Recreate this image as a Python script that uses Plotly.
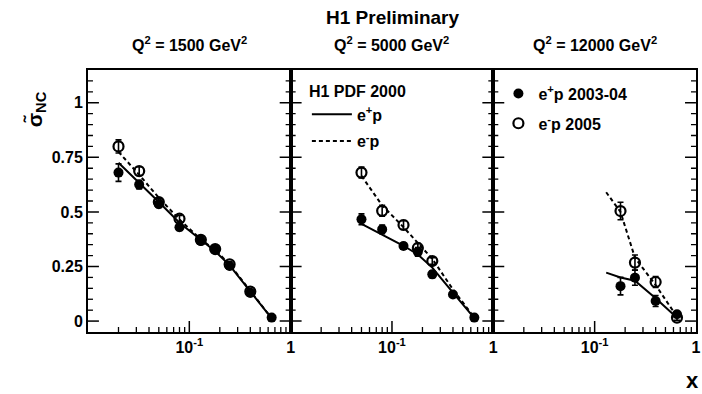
import math
import plotly.graph_objects as go
from plotly.subplots import make_subplots

# ---------------- data ----------------
q2_labels = ["Q<sup>2</sup> = 1500 GeV<sup>2</sup>", "Q<sup>2</sup> = 5000 GeV<sup>2</sup>", "Q<sup>2</sup> = 12000 GeV<sup>2</sup>"]

# theory x grids
th_x1 = [0.02, 0.032, 0.05, 0.08, 0.13, 0.18, 0.25, 0.40, 0.65]
th_ep1 = [0.725, 0.635, 0.545, 0.45, 0.37, 0.32, 0.255, 0.135, 0.012]
th_em1 = [0.775, 0.67, 0.565, 0.465, 0.375, 0.325, 0.26, 0.137, 0.013]

th_x2 = [0.05, 0.08, 0.13, 0.18, 0.25, 0.40, 0.65]
th_ep2 = [0.445, 0.395, 0.345, 0.305, 0.245, 0.13, 0.014]
th_em2 = [0.665, 0.53, 0.43, 0.36, 0.285, 0.145, 0.016]

th_x3 = [0.13, 0.18, 0.25, 0.40, 0.65]
th_ep3 = [0.222, 0.20, 0.185, 0.105, 0.015]
th_em3 = [0.59, 0.50, 0.29, 0.165, 0.02]

# e+p 2003-04 data (closed)
ep_x1 = [0.02, 0.032, 0.05, 0.08, 0.13, 0.18, 0.25, 0.40, 0.65]
ep_y1 = [0.68, 0.625, 0.535, 0.43, 0.367, 0.326, 0.252, 0.13, 0.016]
ep_e1 = [0.04, 0.02, 0.015, 0.015, 0.012, 0.012, 0.012, 0.008, 0.005]

ep_x2 = [0.05, 0.08, 0.13, 0.18, 0.25, 0.40, 0.65]
ep_y2 = [0.466, 0.42, 0.344, 0.317, 0.214, 0.122, 0.016]
ep_e2 = [0.025, 0.02, 0.015, 0.02, 0.015, 0.012, 0.006]

ep_x3 = [0.18, 0.25, 0.40, 0.65]
ep_y3 = [0.16, 0.199, 0.092, 0.031]
ep_e3 = [0.04, 0.035, 0.025, 0.012]

# e-p 2005 data (open)
em_x1 = [0.02, 0.032, 0.05, 0.08, 0.13, 0.18, 0.25, 0.40]
em_y1 = [0.80, 0.687, 0.545, 0.469, 0.372, 0.33, 0.26, 0.135]
em_e1 = [0.03, 0.02, 0.015, 0.015, 0.015, 0.015, 0.012, 0.01]

em_x2 = [0.05, 0.08, 0.13, 0.18, 0.25]
em_y2 = [0.68, 0.505, 0.44, 0.335, 0.275]
em_e2 = [0.025, 0.025, 0.02, 0.02, 0.015]

em_x3 = [0.18, 0.25, 0.40, 0.65]
em_y3 = [0.504, 0.268, 0.179, 0.016]
em_e3 = [0.04, 0.035, 0.025, 0.012]

# axis ticks
x_label_vals = [0.1, 1]
x_label_text = ["10<sup>-1</sup>", "1"]
x_major_tick = [0.1]
x_minor_vals = [k * 10 ** d for d in (-2, -1) for k in range(2, 10)]
y_tickvals = [0, 0.25, 0.5, 0.75, 1]
y_ticktext = ["0", "0.25", "0.5", "0.75", "1"]
y_minor_vals = [round(0.05 * k, 2) for k in range(0, 23) if k % 5 != 0]

X_LOG_RANGE = [-2.0, 0.0005]
Y_RANGE = [-0.05, 1.15]

# ---------------- figure ----------------
FONT = "Liberation Sans"
PANEL_W, PANEL_H = 204.0, 262.0
PX_PER_DECADE = PANEL_W / (X_LOG_RANGE[1] - X_LOG_RANGE[0])
PX_PER_Y = PANEL_H / (Y_RANGE[1] - Y_RANGE[0])
X_LEFT = 10 ** X_LOG_RANGE[0]
X_RIGHT = 1.0

fig = make_subplots(rows=1, cols=3, shared_yaxes=True, horizontal_spacing=0)

theory = [(th_x1, th_ep1, th_em1), (th_x2, th_ep2, th_em2), (th_x3, th_ep3, th_em3)]
closed = [(ep_x1, ep_y1, ep_e1), (ep_x2, ep_y2, ep_e2), (ep_x3, ep_y3, ep_e3)]
opened = [(em_x1, em_y1, em_e1), (em_x2, em_y2, em_e2), (em_x3, em_y3, em_e3)]

INVIS = dict(size=1, color="rgba(0,0,0,0)")


def x_tick_trace(vals, length_px, width):
    n = len(vals)
    return go.Scatter(x=vals, y=[Y_RANGE[0]] * n, mode="markers", marker=INVIS, showlegend=False,
                      hoverinfo="skip", cliponaxis=False,
                      error_y=dict(type="data", symmetric=False, array=[length_px / PX_PER_Y] * n,
                                   arrayminus=[0] * n, color="black", thickness=width, width=0))


def y_tick_trace(vals, length_px, width, side):
    n = len(vals)
    f = 10 ** (length_px / PX_PER_DECADE)
    if side == "left":
        xs, plus, minus = [X_LEFT] * n, [X_LEFT * (f - 1)] * n, [0] * n
    else:
        xs, plus, minus = [X_RIGHT] * n, [0] * n, [X_RIGHT * (1 - 1 / f)] * n
    return go.Scatter(x=xs, y=vals, mode="markers", marker=INVIS, showlegend=False,
                      hoverinfo="skip", cliponaxis=False,
                      error_x=dict(type="data", symmetric=False, array=plus, arrayminus=minus,
                                   color="black", thickness=width, width=0))


for i in range(3):
    col = i + 1
    fig.add_trace(x_tick_trace(x_major_tick, 11, 1.5), row=1, col=col)
    fig.add_trace(x_tick_trace(x_minor_vals, 5, 1.3), row=1, col=col)
    for side in ("left", "right"):
        fig.add_trace(y_tick_trace(y_tickvals, 11, 1.5, side), row=1, col=col)
        fig.add_trace(y_tick_trace(y_minor_vals, 5, 1.3, side), row=1, col=col)

    tx, tep, tem = theory[i]
    fig.add_trace(go.Scatter(x=tx, y=tep, mode="lines", line=dict(color="black", width=2),
                             name="e<sup>+</sup>p", legend="legend", legendgroup="thp", legendrank=1,
                             showlegend=(i == 0)), row=1, col=col)
    fig.add_trace(go.Scatter(x=tx, y=tem, mode="lines", line=dict(color="black", width=2, dash="4px,3px"),
                             name="e<sup>-</sup>p", legend="legend", legendgroup="thm", legendrank=2,
                             showlegend=(i == 0)), row=1, col=col)
    ox, oy, oe = opened[i]
    fig.add_trace(go.Scatter(x=ox, y=oy, mode="markers",
                             marker=dict(symbol="circle-open", size=10, color="black", line=dict(width=2.2)),
                             error_y=dict(type="data", array=oe, color="black", thickness=1.6, width=3),
                             name="e<sup>-</sup>p 2005", legend="legend2", legendgroup="dm", legendrank=2,
                             showlegend=(i == 0)), row=1, col=col)
    cx, cy, ce = closed[i]
    fig.add_trace(go.Scatter(x=cx, y=cy, mode="markers",
                             marker=dict(symbol="circle", size=10, color="black"),
                             error_y=dict(type="data", array=ce, color="black", thickness=1.6, width=3),
                             name="e<sup>+</sup>p 2003-04", legend="legend2", legendgroup="dp", legendrank=1,
                             showlegend=(i == 0)), row=1, col=col)

for i in range(3):
    xa = "xaxis" if i == 0 else f"xaxis{i+1}"
    ya = "yaxis" if i == 0 else f"yaxis{i+1}"
    fig.layout[xa].update(
        type="log", range=X_LOG_RANGE,
        tickmode="array", tickvals=x_label_vals, ticktext=x_label_text,
        ticks="", showline=True, linecolor="black", linewidth=2, mirror=True,
        showgrid=False, zeroline=False,
        tickfont=dict(family=FONT, size=16, color="black", weight="bold"),
    )
    fig.layout[ya].update(
        range=Y_RANGE, tickmode="array", tickvals=y_tickvals, ticktext=y_ticktext,
        ticks="", showline=True, linecolor="black", linewidth=2, mirror=True,
        showgrid=False, zeroline=False, showticklabels=(i == 0),
        tickfont=dict(family=FONT, size=16, color="black", weight="bold"),
    )

annotations = []
for i in range(3):
    xr = "x domain" if i == 0 else f"x{i+1} domain"
    annotations.append(dict(text=q2_labels[i], xref=xr, yref="paper", x=0.5, y=1.0, yshift=14,
                            xanchor="center", yanchor="bottom", showarrow=False,
                            font=dict(family=FONT, size=16, color="black", weight="bold")))
annotations.append(dict(text="H1 Preliminary", xref="paper", yref="paper", x=0.5, y=1.0, yshift=40,
                        xanchor="center", yanchor="bottom", showarrow=False,
                        font=dict(family=FONT, size=19, color="black", weight="bold")))
annotations.append(dict(text="σ̃<sub>NC</sub>", xref="paper", yref="paper", x=0, xshift=-52, y=0.85,
                        xanchor="center", yanchor="middle", textangle=-90, showarrow=False,
                        font=dict(family=FONT, size=21, color="black", weight="bold")))
annotations.append(dict(text="x", xref="paper", yref="paper", x=1, xshift=-4, y=0, yshift=-63,
                        xanchor="center", yanchor="bottom", showarrow=False,
                        font=dict(family=FONT, size=22, color="black", weight="bold")))

fig.update_layout(
    width=702, height=394,
    margin=dict(l=88, r=2, t=70, b=62),
    paper_bgcolor="white", plot_bgcolor="white",
    annotations=annotations,
    legend=dict(title=dict(text="H1 PDF 2000", font=dict(family=FONT, size=16, color="black", weight="bold")),
                x=0.36, y=0.975, xanchor="left", yanchor="top", xref="paper", yref="paper",
                bgcolor="rgba(0,0,0,0)", font=dict(family=FONT, size=16, color="black", weight="bold"),
                tracegroupgap=3, itemwidth=40),
    legend2=dict(x=0.675, y=0.975, xanchor="left", yanchor="top", xref="paper", yref="paper",
                 bgcolor="rgba(0,0,0,0)", font=dict(family=FONT, size=16, color="black", weight="bold"),
                 tracegroupgap=6, itemwidth=30),
)

fig.write_html("out.html")
